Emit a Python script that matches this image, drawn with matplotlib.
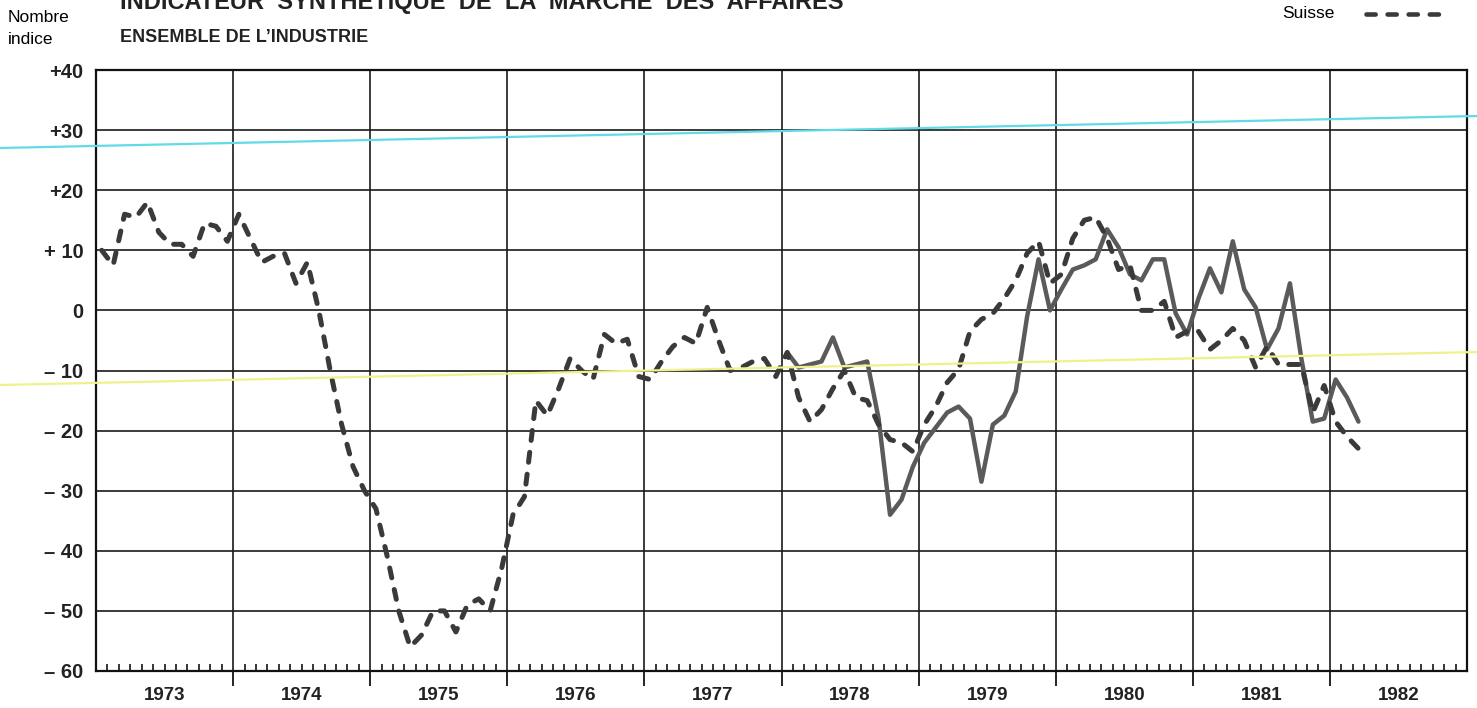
import numpy as np
import matplotlib.pyplot as plt
from matplotlib.lines import Line2D

# indicateur suisse (tirets), mensuel depuis janvier 1973
suisse_1973 = [10, 7.5, 16, 15.5, 18, 13, 11, 11, 9, 14.5, 14, 11.5]
suisse_1974 = [16, 12, 8, 9, 9.5, 4.5, 8, 0, -10, -19, -26, -30]
suisse_1975 = [-33, -41, -50, -56, -54, -50, -50, -53.5, -49, -48, -50, -43]
suisse_1976 = [-34, -31, -15, -17.5, -13, -8, -10, -11.5, -4, -5.5, -4.8, -11]
suisse_1977 = [-11.5, -8.5, -6, -4.5, -5.5, 0.5, -5, -10, -9.5, -8.5, -8, -11]
suisse_1978 = [-7, -14.5, -18.5, -16.5, -13, -10, -14.5, -15, -19, -21.5, -22, -23.5]
suisse_1979 = [-19, -16, -12, -9.8, -3.5, -1.5, -0.5, 2, 5, 9.5, 11.5, 4.5]
suisse_1980 = [6, 12, 15, 15.5, 12, 6.8, 7.5, 0, 0, 1.5, -4.5, -3.5]
suisse_1981 = [-3.5, -6.5, -5, -3, -5, -9.5, -6, -9, -9, -9, -17, -12.5]
suisse_1982 = [-18.5, -21, -23]

# seconde serie (trait plein), mensuel depuis janvier 1978
serie2_1978 = [-7, -9.5, -9, -8.5, -4.5, -9.5, -9, -8.5, -18, -34, -31.5, -26]
serie2_1979 = [-22, -19.5, -17, -16, -18, -28.5, -19, -17.5, -13.5, -1, 8.5, 0]
serie2_1980 = [3.5, 6.8, 7.5, 8.5, 13.5, 10.5, 6, 5, 8.5, 8.5, -0.5, -4]
serie2_1981 = [2, 7, 3, 11.5, 3.5, 0.5, -6.5, -3, 4.5, -8, -18.5, -18]
serie2_1982 = [-11.5, -14.5, -18.5]

annees = list(range(1973, 1983))
y_ticks = [40, 30, 20, 10, 0, -10, -20, -30, -40, -50, -60]
y_labels = ["+40", "+30", "+20", "+ 10", "0", "\u2013 10", "\u2013 20",
            "\u2013 30", "\u2013 40", "\u2013 50", "\u2013 60"]

suisse = (suisse_1973 + suisse_1974 + suisse_1975 + suisse_1976 + suisse_1977
          + suisse_1978 + suisse_1979 + suisse_1980 + suisse_1981 + suisse_1982)
serie2 = serie2_1978 + serie2_1979 + serie2_1980 + serie2_1981 + serie2_1982

x_suisse = 1973 + (np.arange(len(suisse)) + 0.5) / 12
x_serie2 = 1978 + (np.arange(len(serie2)) + 0.5) / 12

plt.rcParams['font.family'] = ['Liberation Sans', 'DejaVu Sans']

fig = plt.figure(figsize=(14.77, 7.08), dpi=100)
ax = fig.add_axes([96 / 1477, 1 - 671 / 708, 1371 / 1477, 601 / 708])

ax.set_xlim(1973, 1983)
ax.set_ylim(-60, 40)

# grille
for yv in y_ticks[1:-1]:
    ax.axhline(yv, color='#1a1a1a', lw=1.2, zorder=1)
for a in annees[1:]:
    ax.axvline(a, color='#1a1a1a', lw=1.2, zorder=1)

ax.plot(x_serie2, serie2, color='#5a5a5a', lw=3.2, solid_joinstyle='round',
        solid_capstyle='round', zorder=3)
ax.plot(x_suisse, suisse, color='#3a3a3a', lw=3.6, linestyle=(0, (2.0, 2.4)),
        dash_capstyle='round', dash_joinstyle='round', zorder=4)

for s in ax.spines.values():
    s.set_linewidth(1.6)
    s.set_color('#111111')

ax.set_yticks(y_ticks)
ax.set_yticklabels(y_labels, fontsize=14.5, fontweight='bold', color='#222222')
ax.tick_params(axis='y', length=0, pad=9)

ax.set_xticks(annees[1:])
ax.set_xticklabels([])
mois = [a + m / 12 for a in annees for m in range(1, 12)]
ax.set_xticks(mois, minor=True)
ax.tick_params(axis='x', which='major', direction='out', length=11, width=1.2)
ax.tick_params(axis='x', which='minor', direction='in', length=5, width=1.1)

for a in annees:
    ax.text(a + 0.5, -0.04, str(a), transform=ax.get_xaxis_transform(),
            ha='center', va='center', fontsize=13.5, fontweight='bold', color='#222222')

# textes d'en-tete
fig.text(120 / 1477, 1 - 2 / 708, "INDICATEUR  SYNTHETIQUE  DE  LA  MARCHE  DES  AFFAIRES",
         fontsize=17, fontweight='bold', ha='left', va='center', color='#222222')
fig.text(8 / 1477, 1 - 17 / 708, "Nombre", fontsize=12.5, ha='left', va='center')
fig.text(8 / 1477, 1 - 39 / 708, "indice", fontsize=12.5, ha='left', va='center')
fig.text(120 / 1477, 1 - 37 / 708, "ENSEMBLE DE L\u2019INDUSTRIE", fontsize=13,
         fontweight='bold', ha='left', va='center', color='#222222')
fig.text(1282 / 1477, 1 - 13 / 708, "Suisse", fontsize=12.5, ha='left', va='center')
fig.add_artist(Line2D([1366 / 1477, 1440 / 1477], [1 - 14 / 708, 1 - 14 / 708],
                      transform=fig.transFigure, color='#3a3a3a', lw=3.3,
                      linestyle=(0, (2.0, 2.6)), dash_capstyle='round'))

# traits de couleur du scan
fig.add_artist(Line2D([0, 1], [1 - 148 / 708, 1 - 116 / 708], transform=fig.transFigure,
                      color='#62dbe6', lw=1.6, zorder=10))
fig.add_artist(Line2D([0, 1], [1 - 385 / 708, 1 - 352 / 708], transform=fig.transFigure,
                      color='#eef28c', lw=1.6, zorder=10))

fig.savefig('out.png', dpi=100)
